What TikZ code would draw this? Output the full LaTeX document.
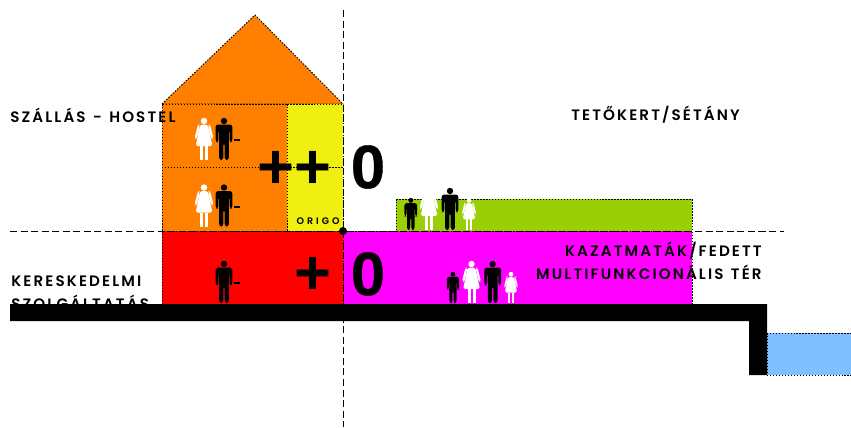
\documentclass[tikz,border=0pt]{standalone}
\usepackage{fontspec}
\newfontfamily\LabelFont[LetterSpace=14,WordSpace=1.3,BoldFont={Poppins SemiBold}]{Poppins}
\newfontfamily\SignFont{Liberation Sans}
\definecolor{RoofColor}{HTML}{FF8000}
\definecolor{OrigoColor}{HTML}{EFEF10}
\definecolor{ShopColor}{HTML}{FF0000}
\definecolor{CaseColor}{HTML}{FF00FF}
\definecolor{GardenColor}{HTML}{9BCF05}
\definecolor{WaterColor}{HTML}{80BFFF}
\tikzset{
  zone/.style={draw=black,line width=0.55pt,dash pattern=on 0.85pt off 0.85pt},
  axis/.style={line width=0.5pt,dash pattern=on 4pt off 2pt},
  caption/.style={inner sep=0pt,font=\LabelFont\bfseries\fontsize{8.6}{8.6}\selectfont},
  sign/.style={inner sep=0pt,font=\SignFont\bfseries\fontsize{36}{36}\selectfont},
  zero/.style={sign,font=\SignFont\bfseries\fontsize{35}{35}\selectfont\addfontfeature{FakeBold=0.6}},
  man/.pic={
    \fill (0,-39) circle (3.2);
    \fill[rounded corners=1.5] (-8.4,-18) -- (-8.4,-35.5) -- (8.4,-35.5) -- (8.4,-18)
      -- (5.6,-18) -- (5.6,-30) -- (4.9,-30) -- (4.9,0) -- (0.7,0) -- (0.7,-17) -- (-0.7,-17)
      -- (-0.7,0) -- (-4.9,0) -- (-4.9,-30) -- (-5.6,-30) -- (-5.6,-18) -- cycle;
  },
  woman/.pic={
    \fill[white] (0,-39) circle (3.2);
    \fill[white,rounded corners=1] (-3.8,-35.5) -- (3.8,-35.5) -- (8.4,-14) -- (-8.4,-14) -- cycle;
    \fill[white,rounded corners=1] (4.4,-35.5) -- (6,-35.5) -- (9.4,-22) -- (7.6,-20.5) -- (5,-30) -- cycle;
    \fill[white,rounded corners=1] (-4.4,-35.5) -- (-6,-35.5) -- (-9.4,-22) -- (-7.6,-20.5) -- (-5,-30) -- cycle;
    \fill[white] (-4,-14) rectangle (-1,0);
    \fill[white] (1,-14) rectangle (4,0);
  },
}
\begin{document}
\begin{tikzpicture}[line cap=butt,x=0.02cm,y=-0.02cm]
  \useasboundingbox (0,0) rectangle (851,427);
  % building
  \filldraw[zone,fill=RoofColor] (162,104) -- (255,15) -- (343,104) -- cycle;
  \filldraw[zone,fill=RoofColor] (162,104) rectangle (287,231);
  \filldraw[zone,fill=OrigoColor] (287,104) rectangle (343,231);
  \draw[zone] (162,167) -- (343,167);
  \filldraw[zone,fill=ShopColor] (162,231) rectangle (343,304);
  \filldraw[zone,fill=CaseColor] (343,231) rectangle (692,304);
  \filldraw[zone,fill=GardenColor] (396,199) rectangle (692,231);
  \filldraw[zone,fill=WaterColor] (767,333) rectangle (851,375);
  % axes
  \coordinate (west) at (10,231);
  \coordinate (east) at (784,231);
  \coordinate (top) at (343,10);
  \coordinate (bottom) at (343,427);
  \draw[axis] (west) -- (east);
  \draw[axis] (top) -- (bottom);
  \fill (343,231) circle (4);
  % people
  \foreach \y in {160,226.5,303}
    \path (224,\y) pic {man};
  \foreach \y in {160,226.5}
    \path (204,\y) pic {woman};
  \foreach \y in {160,226.5,303}
    \fill (233.5,\y-21) rectangle (240,\y-18.7);
  \path (410.8,230) pic[scale=0.76] {man};
  \path (429,230) pic {woman};
  \path (450,230) pic {man};
  \path (469,230) pic[scale=0.76] {woman};
  \path (453,303) pic[scale=0.74] {man};
  \path (471.5,303) pic {woman};
  \path (492.7,303) pic {man};
  \path (511,303) pic[scale=0.74] {woman};
  % labels
  \node[caption,anchor=west] (hostel) at (10,115) {SZÁLLÁS - HOSTEL};
  \node[caption,anchor=east] (roofgarden) at (740,115) {TETŐKERT/SÉTÁNY};
  \node[caption,anchor=west] (trade) at (11,281) {KERESKEDELMI};
  \node[caption,anchor=west] (service) at (11,302) {SZOLGÁLTATÁS};
  \node[caption,anchor=east] (casemate) at (762,251) {KAZATMATÁK/FEDETT};
  \node[caption,anchor=east] (hall) at (762,272) {MULTIFUNKCIONÁLIS TÉR};
  \node[caption,anchor=east,font=\LabelFont\bfseries\fontsize{5.4}{5.4}\selectfont\addfontfeature{LetterSpace=32}] (origo) at (340,221) {ORIGO};
  \node[sign] (plusa) at (276,170) {+};
  \node[sign] (plusb) at (313,170) {+};
  \node[sign] (plusc) at (313,276) {+};
  \node[zero] (zeroa) at (368,167) {0};
  \node[zero] (zerob) at (368,274) {0};
  % ground
  \fill (10,304) -- (767,304) -- (767,375) -- (749,375) -- (749,321) -- (10,321) -- cycle;
\end{tikzpicture}
\end{document}
